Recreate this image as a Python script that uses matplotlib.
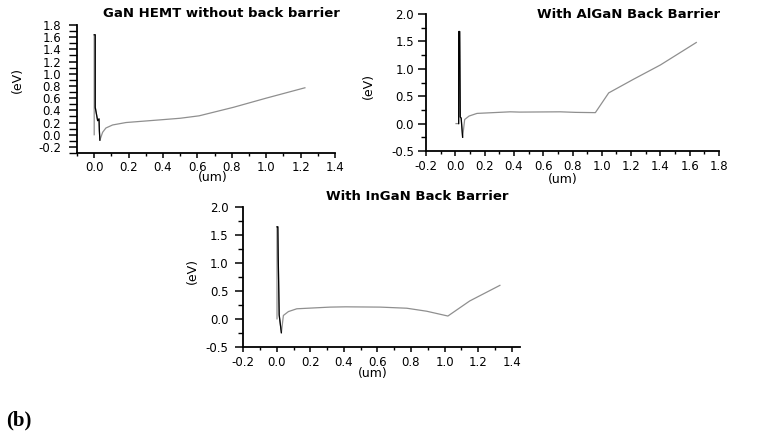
import numpy as np
import matplotlib
matplotlib.use('Agg')
import matplotlib.pyplot as plt
from matplotlib.ticker import MultipleLocator, FormatStrFormatter

plt.rcParams['axes.unicode_minus'] = False
plt.rcParams['font.family'] = 'DejaVu Sans'

# GaN HEMT without back barrier
x1 = [0.0, 0.0, 0.006, 0.006, 0.02, 0.028, 0.03, 0.033, 0.049, 0.068, 0.107,
      0.185, 0.38, 0.5, 0.61, 0.81, 1.0, 1.225]
y1 = [0.0, 1.64, 1.64, 0.45, 0.23, 0.26, 0.07, -0.09, 0.04, 0.11, 0.16,
      0.20, 0.243, 0.27, 0.31, 0.45, 0.60, 0.77]

# with AlGaN back barrier
x2 = [0.005, 0.023, 0.023, 0.03, 0.034, 0.04, 0.05, 0.064, 0.094, 0.148,
      0.375, 0.44, 0.717, 0.82, 0.956, 1.047, 1.217, 1.40, 1.645]
y2 = [0.0, 0.0, 1.68, 1.68, 0.12, 0.10, -0.25, 0.075, 0.138, 0.186,
      0.215, 0.21, 0.215, 0.205, 0.20, 0.56, 0.81, 1.07, 1.48]

# with InGaN back barrier
x3 = [0.001, 0.001, 0.006, 0.008, 0.014, 0.027, 0.039, 0.069, 0.119, 0.317,
      0.41, 0.617, 0.775, 0.894, 1.02, 1.15, 1.33]
y3 = [0.0, 1.65, 1.65, 1.15, 0.07, -0.25, 0.06, 0.13, 0.18, 0.21,
      0.215, 0.21, 0.19, 0.136, 0.05, 0.32, 0.60]

n_dark = [8, 7, 6]  # first points near the spike drawn in black

fig = plt.figure(figsize=(7.6, 4.38), dpi=100)

W, H = 760.0, 438.0
def box(l, r, t, b):
    return [l / W, 1 - b / H, (r - l) / W, (b - t) / H]

ax1 = fig.add_axes(box(77, 335, 25, 153))
ax2 = fig.add_axes(box(426, 719, 14, 151))
ax3 = fig.add_axes(box(243.3, 520, 207.3, 346.7))

panels = [
    (ax1, x1, y1, (-0.1, 1.4), (-0.3, 1.8), 0.2, 0.1, 0.2, 0.1,
     'GaN HEMT without back barrier', (0.558, 1.086), (-0.233, 0.57), (0.527, -0.19), 6.0, 2.0),
    (ax2, x2, y2, (-0.2, 1.8), (-0.5, 2.0), 0.2, 0.1, 0.5, 0.25,
     'With AlGaN Back Barrier', (0.691, 1.0), (-0.195, 0.474), (0.468, -0.205), 3.0, 3.0),
    (ax3, x3, y3, (-0.2, 1.45), (-0.5, 2.0), 0.2, 0.1, 0.5, 0.25,
     'With InGaN Back Barrier', (0.63, 1.077), (-0.185, 0.54), (0.469, -0.195), 5.0, 3.0),
]

for i, (ax, xs, ys, xl, yl, xmaj, xmin, ymaj, ymin, title, tpos, ypos, xpos, ypad, xpad) in enumerate(panels):
    ax.plot(xs, ys, color='#8f8f8f', lw=0.9)
    k = n_dark[i]
    ax.plot(xs[1:k], ys[1:k], color='black', lw=0.9)
    ax.set_xlim(*xl)
    ax.set_ylim(*yl)
    ax.xaxis.set_major_locator(MultipleLocator(xmaj))
    ax.xaxis.set_minor_locator(MultipleLocator(xmin))
    ax.yaxis.set_major_locator(MultipleLocator(ymaj))
    ax.yaxis.set_minor_locator(MultipleLocator(ymin))
    ax.xaxis.set_major_formatter(FormatStrFormatter('%.1f'))
    ax.yaxis.set_major_formatter(FormatStrFormatter('%.1f'))
    for s in ['top', 'right']:
        ax.spines[s].set_visible(False)
    for s in ['left', 'bottom']:
        ax.spines[s].set_linewidth(1.3)
    ax.tick_params(which='major', direction='out', width=1.1, labelsize=8.5)
    ax.tick_params(which='minor', direction='out', width=1.0)
    ax.tick_params(axis='y', which='major', length=5.5, pad=ypad)
    ax.tick_params(axis='y', which='minor', length=3.5 if i else 5.5)
    ax.tick_params(axis='x', which='major', length=3.5, pad=xpad)
    ax.tick_params(axis='x', which='minor', length=2.5)
    ax.text(tpos[0], tpos[1], title, transform=ax.transAxes, ha='center',
            va='center', fontsize=9.5, fontweight='bold')
    ax.text(ypos[0], ypos[1], '(eV)', transform=ax.transAxes, ha='center',
            va='center', rotation=90, fontsize=9)
    ax.text(xpos[0], xpos[1], '(um)', transform=ax.transAxes, ha='center',
            va='center', fontsize=9)

fig.text(0.008, 0.039, '(b)', fontsize=15, fontweight='bold',
         family='Liberation Serif', ha='left', va='center')

fig.savefig('out.png', dpi=100)
